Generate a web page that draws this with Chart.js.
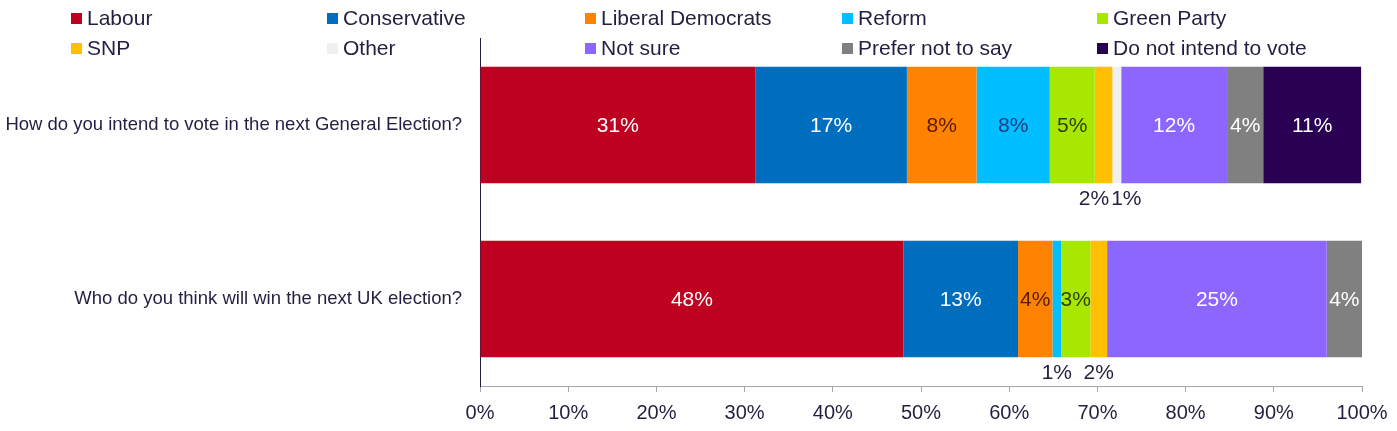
<!DOCTYPE html>
<html>
<head>
<meta charset="utf-8">
<script src="https://cdn.jsdelivr.net/npm/chart.js@4.4.1/dist/chart.umd.min.js"></script>
<style>
  html, body { margin: 0; padding: 0; background: #ffffff; }
  #wrap { width: 1397px; height: 431px; position: relative; }
</style>
</head>
<body>
<div id="wrap"><canvas id="c" width="1397" height="431"></canvas></div>
<script>
// ---- data ----
const categories = [
  "How do you intend to vote in the next General Election?",
  "Who do you think will win the next UK election?"
];
const seriesNames = ["Labour", "Conservative", "Liberal Democrats", "Reform", "Green Party",
                     "SNP", "Other", "Not sure", "Prefer not to say", "Do not intend to vote"];
const labour       = [31.2, 48.0];
const conservative = [17.2, 13.0];
const libDems      = [7.9, 3.9];
const reform       = [8.3, 1.0];
const green        = [5.1, 3.3];
const snp          = [2.0, 1.9];
const other        = [1.0, 0];
const notSure      = [12.0, 24.9];
const preferNot    = [4.1, 4.0];
const doNotIntend  = [11.1, 0];
const xTickValues  = [0, 10, 20, 30, 40, 50, 60, 70, 80, 90, 100];

// ---- styles ----
const seriesValues = [labour, conservative, libDems, reform, green, snp, other, notSure, preferNot, doNotIntend];
const fillColors  = ["#BE0021", "#006EBE", "#FF8200", "#00BEFF", "#A8E800", "#FFC000", "#F0F0F0", "#8C66FF", "#808080", "#2A0055"];
const labelColors = ["#FFFFFF", "#FFFFFF", "#5A1A00", "#1F3C82", "#2E3F00", "#231F40", "#231F40", "#FFFFFF", "#FFFFFF", "#FFFFFF"];
const TEXT = "#231F40";
const FONT = '"Liberation Sans", Arial, sans-serif';

const datasets = seriesNames.map((name, i) => ({
  label: name,
  data: seriesValues[i],
  backgroundColor: fillColors[i],
  borderWidth: 0,
  labelColor: labelColors[i]
}));

const gridLegend = {
  id: 'gridLegend',
  afterDraw(chart) {
    const ctx = chart.ctx;
    const colX = [71, 327, 585, 842, 1097];
    const rowY = [18, 48];
    ctx.save();
    ctx.font = '21px ' + FONT;
    ctx.textBaseline = 'middle';
    ctx.textAlign = 'left';
    chart.data.datasets.forEach((ds, i) => {
      const x = colX[i % 5], y = rowY[Math.floor(i / 5)];
      ctx.fillStyle = ds.backgroundColor;
      ctx.fillRect(x, y - 5, 11, 11);
      ctx.fillStyle = TEXT;
      ctx.fillText(ds.label, x + 16, y + 1);
    });
    ctx.restore();
  }
};

const barLabels = {
  id: 'barLabels',
  afterDatasetsDraw(chart) {
    const ctx = chart.ctx;
    ctx.save();
    ctx.font = '21px ' + FONT;
    ctx.textAlign = 'center';
    ctx.textBaseline = 'middle';
    chart.data.labels.forEach((cat, j) => {
      const below = [];
      let bottom = 0;
      chart.data.datasets.forEach((ds, i) => {
        const v = ds.data[j];
        if (!v) return;
        const el = chart.getDatasetMeta(i).data[j];
        const txt = Math.round(v) + '%';
        const cx = (el.x + el.base) / 2;
        bottom = el.y + el.height / 2;
        if (v >= 3) {
          ctx.fillStyle = ds.labelColor;
          ctx.fillText(txt, cx, el.y + 1);
        } else {
          below.push({ cx, txt, w: ctx.measureText(txt).width });
        }
      });
      for (let k = 1; k < below.length; k++) {
        const a = below[k - 1], b = below[k];
        const need = (a.w + b.w) / 2 + 2;
        const gap = b.cx - a.cx;
        if (gap < need) {
          const d = (need - gap) / 2;
          a.cx -= d; b.cx += d;
        }
      }
      ctx.fillStyle = TEXT;
      below.forEach(l => ctx.fillText(l.txt, l.cx, bottom + 16));
    });
    ctx.restore();
  }
};

new Chart(document.getElementById('c'), {
  type: 'bar',
  data: { labels: categories, datasets },
  plugins: [barLabels, gridLegend],
  options: {
    responsive: false,
    animation: false,
    indexAxis: 'y',
    barPercentage: 0.67,
    categoryPercentage: 1.0,
    layout: { padding: { top: 38, right: 35, left: 0, bottom: 0 } },
    plugins: { legend: { display: false }, tooltip: { enabled: false } },
    scales: {
      x: {
        stacked: true,
        min: 0, max: 100,
        afterBuildTicks(scale) { scale.ticks = xTickValues.map(v => ({ value: v })); },
        grid: { drawOnChartArea: false, tickLength: 6, color: '#A6A6A6' },
        border: { color: '#A6A6A6', width: 1 },
        ticks: {
          callback: v => v + '%',
          font: { family: FONT, size: 20 },
          color: TEXT,
          padding: 9,
          maxRotation: 0
        },
        afterFit(s) { s.height = 45; }
      },
      y: {
        stacked: true,
        grid: { drawOnChartArea: false, drawTicks: false },
        border: { color: TEXT, width: 1 },
        ticks: {
          font: { family: FONT, size: 18.5 },
          color: TEXT,
          padding: 18
        },
        afterFit(s) { s.width = 480; }
      }
    }
  }
});
</script>
</body>
</html>
